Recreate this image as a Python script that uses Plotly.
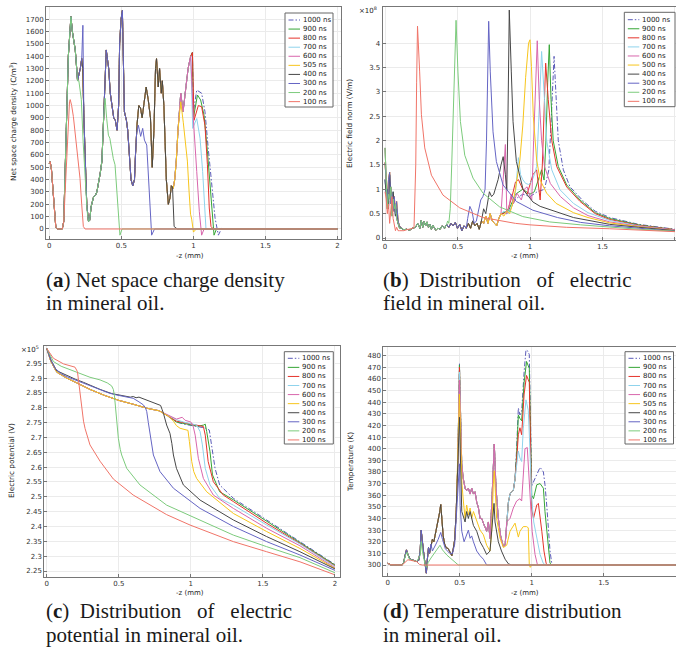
import plotly.graph_objects as go

# ---------------- series names / styles ----------------
NAMES_AD = ["1000 ns", "900 ns", "800 ns", "700 ns", "600 ns", "505 ns", "400 ns", "300 ns", "200 ns", "100 ns"]
NAMES_BC = ["1000 ns", "900 ns", "800 ns", "700 ns", "600 ns", "500 ns", "400 ns", "300 ns", "200 ns", "100 ns"]
COLORS = ["#5b5bb8", "#35a535", "#e5332b", "#8fd3ec", "#d866ac", "#f7c51c", "#474747", "#6565c4", "#7ccb7c", "#f07468"]
DASHES = ["5px,2px,1.5px,2px"] + ["solid"] * 9

# ---------------- (a) net space charge density, C/m^3 ----------------
RHO_COMMON = [(0.000, 530), (0.006, 545), (0.015, 480), (0.025, 300), (0.035, 110), (0.045, 15), (0.055, 0),
              (0.090, 0), (0.100, 60), (0.110, 400), (0.120, 900), (0.132, 1400), (0.144, 1680), (0.150, 1720),
              (0.160, 1600), (0.170, 1520), (0.180, 1450), (0.190, 1300), (0.196, 1200), (0.205, 1250),
              (0.215, 1300), (0.225, 1380), (0.232, 1300), (0.240, 900), (0.250, 500), (0.260, 200),
              (0.272, 60), (0.280, 70), (0.290, 180), (0.307, 260), (0.319, 270), (0.330, 300), (0.353, 450),
              (0.365, 550), (0.377, 900), (0.388, 1200), (0.395, 1450), (0.412, 1300), (0.423, 1100),
              (0.435, 1000), (0.447, 900), (0.458, 880), (0.470, 800), (0.481, 1000), (0.488, 1500),
              (0.498, 1700), (0.507, 1770), (0.521, 950), (0.535, 880), (0.544, 800), (0.558, 600),
              (0.567, 400), (0.579, 350), (0.591, 400), (0.598, 600), (0.609, 850), (0.621, 1000),
              (0.633, 980), (0.644, 900), (0.656, 1000), (0.672, 1150), (0.686, 1050), (0.702, 900),
              (0.714, 500), (0.726, 800), (0.737, 1300), (0.744, 1380), (0.756, 1150), (0.765, 1300),
              (0.777, 1100), (0.784, 1200), (0.795, 1000), (0.802, 700), (0.812, 400), (0.826, 200),
              (0.837, 250), (0.847, 350), (0.860, 330), (0.870, 400), (0.881, 550), (0.893, 800),
              (0.912, 1100), (0.928, 950), (0.947, 1150), (0.963, 1300), (0.981, 1400), (0.993, 1430)]
RHO_TAIL_1000 = [(1.0, 950), (1.023, 1125), (1.057, 1100), (1.08, 950), (1.103, 650), (1.127, 360), (1.15, 90),
                 (1.173, -50), (1.196, 5), (1.21, 0), (2.0, 0)]
RHO_TAIL_900 = [(1.0, 900), (1.028, 1085), (1.05, 1045), (1.074, 920), (1.097, 630), (1.12, 300), (1.134, 55),
                (1.143, -50), (1.16, 0), (2.0, 0)]
RHO_TAIL_800 = [(1.004, 880), (1.034, 1000), (1.057, 990), (1.08, 840), (1.097, 520), (1.11, 170), (1.122, 20),
                (1.138, 0), (2.0, 0)]
RHO_TAIL_700 = [(0.995, 815), (1.023, 895), (1.046, 735), (1.064, 465), (1.076, 195), (1.087, 0), (2.0, 0)]
RHO_TAIL_600 = [(0.988, 1140), (1.0, 880), (1.023, 465), (1.041, 140), (1.057, -50), (1.074, 0), (2.0, 0)]
RHO_TAIL_505 = [(0.912, 1030), (0.93, 860), (0.945, 700), (0.958, 550), (0.97, 300), (0.98, 120), (0.988, 80),
                (1.0, -25), (1.02, 0), (2.0, 0)]
RHO_TAIL_400 = [(0.855, 340), (0.866, 20), (0.875, 10), (0.888, 0), (2.0, 0)]
RHO_SPIKE_300 = [(0.233, 1650)]
RHO_TAIL_300 = [(0.606, 775), (0.618, 840), (0.634, 750), (0.648, 815), (0.66, 720), (0.676, 680), (0.687, 410),
                (0.699, 195), (0.71, -50), (0.73, 0), (2.0, 0)]
RHO_DIP_200 = [(0.205, 1200), (0.215, 1120), (0.222, 1050), (0.235, 700), (0.25, 400), (0.262, 150)]
RHO_TAIL_200 = [(0.387, 1058), (0.398, 896), (0.41, 760), (0.42, 735), (0.433, 625), (0.444, 570), (0.456, 520),
                (0.468, 300), (0.479, 113), (0.49, -50), (0.505, 0), (2.0, 0)]
RHO_TAIL_100 = [(0.11, 300), (0.12, 650), (0.13, 900), (0.14, 1030), (0.145, 1048), (0.155, 1000), (0.167, 910),
                (0.178, 790), (0.195, 630), (0.202, 560), (0.213, 410), (0.225, 195), (0.236, 20), (0.248, 0),
                (2.0, 0)]

# ---------------- (b) electric field norm, 1e8 V/m ----------------
E_START_1 = [(0, 1.55), (0.008, 1.1), (0.016, 0.75), (0.024, 1.2), (0.032, 1.35), (0.04, 0.7), (0.048, 0.9),
             (0.056, 0.55), (0.064, 0.85), (0.072, 0.5), (0.08, 0.75), (0.09, 0.35), (0.1, 0.25)]
E_START_2 = [(0, 1.85), (0.008, 1.2), (0.016, 0.6), (0.024, 0.9), (0.032, 0.8), (0.04, 1.05), (0.048, 0.45),
             (0.056, 0.8), (0.064, 0.6), (0.072, 0.7), (0.08, 0.4), (0.09, 0.3), (0.1, 0.2)]
E_START_3 = [(0, 1.2), (0.008, 0.9), (0.016, 1.0), (0.024, 0.6), (0.032, 1.3), (0.04, 0.9), (0.048, 0.6),
             (0.056, 0.95), (0.064, 0.7), (0.072, 0.45), (0.08, 0.6), (0.09, 0.3), (0.1, 0.22)]
E_LOW = [(0.115, 0.2), (0.13, 0.17), (0.15, 0.18), (0.17, 0.16), (0.19, 0.2), (0.21, 0.22), (0.225, 0.3),
         (0.24, 0.2), (0.25, 0.36), (0.26, 0.22), (0.27, 0.34), (0.28, 0.25), (0.29, 0.33), (0.3, 0.22),
         (0.31, 0.28), (0.32, 0.18), (0.33, 0.26), (0.34, 0.2), (0.35, 0.16), (0.365, 0.2), (0.38, 0.18),
         (0.395, 0.25), (0.41, 0.2), (0.425, 0.28)]
E_MID1 = [(0.44, 0.22), (0.455, 0.3), (0.47, 0.25), (0.485, 0.32), (0.5, 0.2), (0.515, 0.28), (0.53, 0.15),
          (0.545, 0.25), (0.56, 0.2)]
E_MID2 = [(0.575, 0.3), (0.59, 0.2), (0.605, 0.35), (0.62, 0.25), (0.635, 0.3), (0.65, 0.18), (0.665, 0.35)]
E_MID3 = [(0.68, 0.3), (0.695, 0.45), (0.71, 0.3), (0.725, 0.5), (0.74, 0.35), (0.755, 0.3), (0.77, 0.25),
          (0.785, 0.4), (0.8, 0.5)]
E_100 = [(0, 0.95), (0.008, 0.8), (0.016, 0.5), (0.024, 0.7), (0.032, 0.3), (0.04, 0.6), (0.048, 0.85),
         (0.056, 0.4), (0.064, 0.25), (0.072, 0.15), (0.08, 0.22), (0.09, 0.15), (0.1, 0.15), (0.13, 0.15),
         (0.15, 0.17), (0.17, 0.18), (0.19, 0.2), (0.2, 0.22), (0.212, 1.5), (0.218, 3.2), (0.224, 4.35),
         (0.239, 3.41), (0.251, 2.53), (0.274, 1.85), (0.32, 1.29), (0.4, 0.88), (0.515, 0.62), (0.676, 0.42),
         (0.9, 0.3), (1.0, 0.27), (1.25, 0.22), (1.55, 0.19), (1.75, 0.16), (2.0, 0.13)]
E_TAIL_200 = [(0.432, 0.35), (0.44, 0.3), (0.45, 0.6), (0.46, 1.5), (0.47, 2.6), (0.48, 3.6), (0.49, 4.47),
              (0.503, 3.41), (0.52, 2.39), (0.55, 1.7), (0.607, 1.23), (0.676, 0.92), (0.79, 0.64), (0.95, 0.44),
              (1.136, 0.33), (1.35, 0.27), (1.55, 0.22), (1.75, 0.18), (2.0, 0.14)]
E_TAIL_300 = [(0.57, 0.4), (0.585, 0.65), (0.6, 0.55), (0.615, 0.3), (0.63, 0.35), (0.645, 0.6), (0.66, 0.78),
              (0.675, 0.85), (0.69, 1.0), (0.7, 2.0), (0.708, 3.5), (0.715, 4.45), (0.726, 3.41), (0.745, 2.18),
              (0.768, 1.57), (0.814, 1.09), (0.906, 0.75), (1.02, 0.57), (1.19, 0.42), (1.35, 0.32), (1.55, 0.25),
              (1.75, 0.2), (2.0, 0.14)]
E_TAIL_400 = [(0.68, 0.6), (0.695, 0.5), (0.71, 0.75), (0.72, 0.95), (0.735, 0.85), (0.75, 0.9), (0.765, 1.05),
              (0.78, 1.2), (0.8, 1.5), (0.815, 1.67), (0.83, 1.3), (0.84, 0.99), (0.848, 2.5), (0.857, 4.68),
              (0.871, 3.41), (0.883, 2.39), (0.906, 1.57), (0.952, 1.0), (1.02, 0.74), (1.07, 0.65), (1.3, 0.42),
              (1.55, 0.28), (1.75, 0.22), (2.0, 0.15)]
E_TAIL_500 = [(0.82, 0.45), (0.84, 0.55), (0.86, 0.5), (0.88, 0.7), (0.9, 1.0), (0.915, 1.3), (0.93, 1.6),
              (0.95, 2.3), (0.97, 3.3), (0.99, 4.0), (1.0, 4.07), (1.01, 3.52), (1.023, 2.49), (1.046, 1.6),
              (1.07, 1.19), (1.115, 0.92), (1.18, 0.71), (1.3, 0.52), (1.4, 0.42), (1.55, 0.31), (1.75, 0.23),
              (2.0, 0.15)]
E_TAIL_600 = [(0.815, 1.2), (0.83, 1.92), (0.84, 0.5), (0.855, 0.64), (0.87, 0.9), (0.885, 0.7), (0.91, 0.92),
              (0.94, 0.78), (0.96, 1.0), (0.98, 1.05), (1.0, 0.85), (1.012, 0.78), (1.025, 2.0), (1.04, 3.4),
              (1.05, 4.05), (1.064, 2.84), (1.08, 2.0), (1.1, 1.47), (1.14, 1.12), (1.21, 0.85), (1.3, 0.62),
              (1.4, 0.46), (1.55, 0.33), (1.75, 0.24), (2.0, 0.16)]
E_TAIL_700 = [(0.82, 0.55), (0.85, 0.5), (0.88, 0.7), (0.9, 0.95), (0.92, 1.65), (0.935, 1.3), (0.95, 1.2),
              (0.97, 1.12), (0.99, 1.1), (1.01, 1.15), (1.03, 1.3), (1.046, 1.47), (1.06, 2.4), (1.07, 3.2),
              (1.08, 3.83), (1.1, 2.84), (1.115, 2.0), (1.15, 1.4), (1.207, 0.99), (1.3, 0.71), (1.4, 0.52),
              (1.55, 0.36), (1.75, 0.25), (2.0, 0.16)]
E_TAIL_800 = [(0.82, 0.5), (0.85, 0.6), (0.88, 0.9), (0.9, 1.15), (0.92, 1.2), (0.95, 1.0), (0.98, 0.9),
              (1.0, 1.1), (1.02, 1.3), (1.046, 1.4), (1.06, 1.0), (1.07, 0.78), (1.085, 1.5), (1.097, 2.8),
              (1.108, 3.59), (1.126, 2.84), (1.15, 2.0), (1.184, 1.47), (1.253, 1.05), (1.345, 0.75), (1.45, 0.5),
              (1.55, 0.38), (1.75, 0.26), (2.0, 0.17)]
E_TAIL_900 = [(0.85, 0.55), (0.9, 0.9), (0.95, 1.0), (1.0, 0.9), (1.03, 0.95), (1.06, 1.2), (1.08, 1.4),
              (1.097, 1.19), (1.11, 2.0), (1.122, 3.2), (1.133, 3.97), (1.145, 2.84), (1.16, 2.0), (1.195, 1.47),
              (1.253, 1.09), (1.345, 0.78), (1.45, 0.52), (1.55, 0.4), (1.75, 0.27), (2.0, 0.17)]
E_TAIL_1000 = [(0.85, 0.5), (0.9, 0.8), (0.95, 0.9), (1.0, 0.85), (1.05, 0.95), (1.1, 1.0), (1.13, 1.4),
               (1.145, 2.2), (1.155, 3.0), (1.166, 3.73), (1.18, 2.84), (1.195, 2.0), (1.23, 1.4), (1.276, 1.05),
               (1.37, 0.75), (1.45, 0.55), (1.55, 0.42), (1.75, 0.28), (2.0, 0.18)]

# ---------------- (c) electric potential, 1e5 V ----------------
V_100 = [(0, 3.0), (0.046, 2.967), (0.116, 2.948), (0.162, 2.942), (0.196, 2.937), (0.213, 2.922), (0.22, 2.895),
         (0.227, 2.866), (0.235, 2.82), (0.243, 2.787), (0.255, 2.755), (0.266, 2.73), (0.3, 2.675), (0.37, 2.62),
         (0.462, 2.56), (0.6, 2.506), (0.832, 2.44), (0.994, 2.405), (1.295, 2.349), (1.526, 2.315),
         (1.757, 2.281), (2.0, 2.237)]
V_200 = [(0, 3.0), (0.046, 2.956), (0.1, 2.94), (0.139, 2.933), (0.2, 2.92), (0.254, 2.911), (0.3, 2.903),
         (0.37, 2.894), (0.42, 2.884), (0.45, 2.874), (0.462, 2.862), (0.47, 2.84), (0.478, 2.8), (0.486, 2.765),
         (0.497, 2.697), (0.51, 2.66), (0.52, 2.641), (0.555, 2.596), (0.647, 2.54), (0.832, 2.472),
         (1.064, 2.422), (1.295, 2.371), (1.526, 2.332), (1.757, 2.295), (2.0, 2.244)]
V_300 = [(0, 3.0), (0.03, 2.96), (0.058, 2.933), (0.1, 2.915), (0.139, 2.905), (0.2, 2.893), (0.254, 2.883),
         (0.3, 2.874), (0.37, 2.86), (0.43, 2.85), (0.486, 2.843), (0.55, 2.837), (0.6, 2.832), (0.64, 2.82),
         (0.67, 2.81), (0.685, 2.8), (0.694, 2.787), (0.705, 2.75), (0.717, 2.708), (0.74, 2.641), (0.786, 2.585),
         (0.879, 2.529), (1.064, 2.461), (1.295, 2.4), (1.526, 2.349), (1.757, 2.304), (2.0, 2.252)]
V_400 = [(0, 3.0), (0.03, 2.96), (0.069, 2.925), (0.139, 2.908), (0.2, 2.896), (0.254, 2.886), (0.3, 2.876),
         (0.37, 2.862), (0.45, 2.848), (0.5, 2.843), (0.55, 2.84), (0.58, 2.836), (0.6, 2.838), (0.62, 2.834),
         (0.64, 2.836), (0.68, 2.828), (0.72, 2.82), (0.763, 2.812), (0.79, 2.808), (0.8, 2.795), (0.81, 2.781),
         (0.832, 2.742), (0.855, 2.714), (0.868, 2.68), (0.879, 2.641), (0.9, 2.596), (0.948, 2.54),
         (1.064, 2.489), (1.295, 2.422), (1.526, 2.366), (1.757, 2.315), (2.0, 2.257)]
V_LOW_COMMON = [(0, 3.0), (0.03, 2.955), (0.07, 2.92), (0.139, 2.9), (0.2, 2.886), (0.3, 2.862), (0.4, 2.842),
                (0.5, 2.825), (0.6, 2.812), (0.7, 2.798), (0.78, 2.79), (0.8, 2.785)]
V_TAIL_500 = [(0.85, 2.77), (0.879, 2.755), (0.9, 2.74), (0.925, 2.731), (0.96, 2.725), (0.98, 2.724),
              (0.99, 2.686), (1.006, 2.619), (1.02, 2.585), (1.04, 2.562), (1.11, 2.517), (1.295, 2.444),
              (1.526, 2.383), (1.757, 2.326), (2.0, 2.259)]
V_TAIL_600 = [(0.85, 2.775), (0.9, 2.762), (0.94, 2.768), (0.96, 2.758), (0.98, 2.755), (1.0, 2.752),
              (1.015, 2.74), (1.03, 2.708), (1.052, 2.63), (1.087, 2.562), (1.156, 2.506), (1.295, 2.461),
              (1.526, 2.394), (1.757, 2.335), (2.0, 2.261)]
V_TAIL_700 = [(0.85, 2.772), (0.9, 2.76), (0.95, 2.752), (1.0, 2.746), (1.04, 2.742), (1.064, 2.72),
              (1.08, 2.675), (1.1, 2.596), (1.133, 2.54), (1.2, 2.495), (1.295, 2.472), (1.526, 2.405),
              (1.757, 2.341), (2.0, 2.265)]
V_TAIL_800 = [(0.85, 2.77), (0.9, 2.755), (0.95, 2.75), (1.0, 2.745), (1.05, 2.74), (1.087, 2.737), (1.1, 2.708),
              (1.12, 2.619), (1.156, 2.551), (1.225, 2.506), (1.295, 2.484), (1.526, 2.411), (1.757, 2.343),
              (2.0, 2.267)]
V_TAIL_900 = [(0.85, 2.77), (0.9, 2.752), (0.95, 2.748), (1.0, 2.742), (1.05, 2.738), (1.09, 2.742), (1.1, 2.745),
              (1.11, 2.72), (1.133, 2.652), (1.15, 2.574), (1.2, 2.517), (1.295, 2.49), (1.526, 2.417),
              (1.757, 2.347), (2.0, 2.27)]
V_TAIL_1000 = [(0.85, 2.768), (0.9, 2.752), (0.95, 2.745), (1.0, 2.74), (1.05, 2.735), (1.1, 2.732),
               (1.128, 2.725), (1.14, 2.686), (1.168, 2.596), (1.2, 2.54), (1.295, 2.495), (1.526, 2.422),
               (1.757, 2.349), (2.0, 2.272)]

# ---------------- (d) temperature, K ----------------
T_BASE = [(0, 301.5), (0.02, 300.2), (0.1, 300), (0.11, 302), (0.12, 308), (0.13, 313), (0.14, 309), (0.155, 305),
          (0.18, 304), (0.2, 303), (0.215, 304), (0.225, 312), (0.232, 330), (0.24, 318), (0.248, 312),
          (0.255, 305), (0.262, 298), (0.268, 293), (0.275, 305), (0.283, 315), (0.29, 310), (0.3, 318),
          (0.31, 322), (0.32, 320), (0.33, 326), (0.34, 330), (0.35, 338), (0.36, 345), (0.368, 352),
          (0.376, 340), (0.385, 325), (0.395, 318), (0.405, 315), (0.42, 314), (0.435, 310), (0.445, 308),
          (0.455, 314), (0.465, 322), (0.475, 345), (0.486, 385)]
T_PEAK = {"1000": 473, "900": 472, "800": 470, "700": 466, "600": 459, "505": 447, "400": 427}
T_TOP_MID = [(0.514, 386), (0.525, 374), (0.537, 366), (0.548, 364), (0.56, 366), (0.572, 361), (0.583, 366),
             (0.595, 361), (0.606, 363), (0.618, 354), (0.63, 349), (0.641, 340), (0.653, 340), (0.664, 336),
             (0.676, 333), (0.687, 329), (0.699, 337), (0.71, 323), (0.722, 352), (0.733, 395), (0.74, 404),
             (0.752, 366), (0.768, 340), (0.784, 325), (0.803, 316), (0.815, 317), (0.826, 337), (0.838, 354),
             (0.849, 361), (0.86, 363), (0.872, 364), (0.884, 374)]
T_TAIL_1000 = [(0.895, 400), (0.907, 435), (0.918, 429), (0.93, 432), (0.947, 466), (0.96, 485), (0.972, 484),
               (0.983, 481), (0.992, 420), (1.0, 368), (1.023, 374.5), (1.046, 381.7), (1.058, 384), (1.081, 380),
               (1.092, 369), (1.104, 351.6), (1.116, 329), (1.127, 312), (1.139, 301.5), (1.15, 300), (2.0, 300)]
T_TAIL_900 = [(0.895, 395), (0.907, 429), (0.918, 426), (0.93, 424), (0.947, 457), (0.964, 475), (0.983, 469),
              (0.992, 410), (1.0, 360), (1.012, 357), (1.035, 369), (1.058, 370), (1.081, 366), (1.092, 346),
              (1.104, 330), (1.116, 316), (1.127, 301.5), (1.14, 300), (2.0, 300)]
T_TAIL_800 = [(0.895, 390), (0.907, 412), (0.918, 418), (0.93, 412), (0.947, 447), (0.964, 463), (0.983, 457),
              (0.992, 400), (1.0, 348), (1.012, 340), (1.035, 351.6), (1.046, 353), (1.058, 343), (1.07, 329),
              (1.085, 312), (1.1, 301.5), (1.11, 300), (2.0, 300)]
T_TAIL_700 = [(0.907, 398), (0.918, 392), (0.93, 389), (0.941, 417), (0.96, 442), (0.976, 433), (0.984, 410),
              (1.0, 357), (1.014, 337), (1.035, 323), (1.058, 309), (1.08, 301.5), (1.095, 300), (2.0, 300)]
T_TAIL_600 = [(0.849, 340), (0.872, 349), (0.895, 355), (0.918, 357), (0.93, 355), (0.953, 400), (0.969, 401),
              (0.984, 369), (1.003, 329), (1.023, 309), (1.04, 300), (2.0, 300)]
T_AFTER_505 = [(0.506, 413), (0.515, 370), (0.525, 355), (0.537, 340), (0.548, 351.6), (0.56, 343), (0.572, 349),
               (0.583, 340), (0.595, 346), (0.618, 337), (0.641, 330), (0.664, 326), (0.687, 317), (0.71, 312),
               (0.722, 329), (0.733, 369), (0.74, 381), (0.756, 340), (0.78, 323), (0.803, 315), (0.826, 317),
               (0.849, 329), (0.872, 333), (0.884, 336), (0.907, 324), (0.918, 329), (0.941, 333), (0.964, 333),
               (0.976, 332), (0.983, 300), (0.99, 298), (1.0, 300), (2.0, 300)]
T_AFTER_400 = [(0.514, 346), (0.525, 342), (0.537, 337), (0.548, 346), (0.56, 340), (0.572, 346), (0.583, 339),
               (0.595, 334), (0.618, 329), (0.641, 320), (0.664, 315), (0.687, 309), (0.71, 312), (0.722, 329),
               (0.733, 346), (0.738, 353), (0.745, 337), (0.768, 320), (0.79, 312), (0.815, 305), (0.838, 301),
               (0.86, 300), (2.0, 300)]
T_AFTER_300 = [(0.31, 312), (0.32, 314), (0.335, 318), (0.35, 322), (0.368, 328), (0.38, 322), (0.4, 314),
               (0.43, 310), (0.45, 310), (0.465, 318), (0.475, 338), (0.486, 362), (0.498, 387), (0.503, 351),
               (0.514, 329), (0.53, 320), (0.548, 326), (0.56, 330), (0.572, 323), (0.583, 325), (0.595, 320),
               (0.618, 312), (0.641, 308), (0.664, 305), (0.687, 300), (2.0, 300)]
T_200 = [(0, 301.5), (0.02, 300.2), (0.1, 300), (0.11, 302), (0.125, 309), (0.135, 311), (0.15, 305), (0.2, 303),
         (0.225, 308), (0.232, 320), (0.24, 312), (0.25, 305), (0.26, 300), (0.27, 298), (0.28, 302), (0.3, 306),
         (0.32, 310), (0.34, 313), (0.363, 317), (0.38, 313), (0.41, 308.6), (0.456, 304), (0.48, 301.4),
         (0.49, 300), (2.0, 300)]
T_100 = [(0, 301.5), (0.02, 300.2), (0.1, 300), (0.12, 302), (0.14, 304.5), (0.16, 304), (0.2, 303),
         (0.22, 300.5), (0.24, 300), (2.0, 300)]


def seg(pts, lo, hi):
    return [p for p in pts if lo <= p[0] < hi]


def build(*parts):
    pts = [p for part in parts for p in part]
    return [p[0] for p in pts], [p[1] for p in pts]


SERIES_A = [
    build(seg(RHO_COMMON, 0, 1), RHO_TAIL_1000),
    build(seg(RHO_COMMON, 0, 1), RHO_TAIL_900),
    build(seg(RHO_COMMON, 0, 1), RHO_TAIL_800),
    build(seg(RHO_COMMON, 0, 0.99), RHO_TAIL_700),
    build(seg(RHO_COMMON, 0, 0.985), RHO_TAIL_600),
    build(seg(RHO_COMMON, 0, 0.9), RHO_TAIL_505),
    build(seg(RHO_COMMON, 0, 0.85), RHO_TAIL_400),
    build(seg(RHO_COMMON, 0, 0.228), RHO_SPIKE_300, seg(RHO_COMMON, 0.238, 0.6), RHO_TAIL_300),
    build(seg(RHO_COMMON, 0, 0.2), RHO_DIP_200, seg(RHO_COMMON, 0.27, 0.38), RHO_TAIL_200),
    build(seg(RHO_COMMON, 0, 0.105), RHO_TAIL_100),
]
E_PRE = E_LOW + E_MID1
SERIES_B = [
    build(E_START_3, E_PRE, E_MID2, E_MID3, E_TAIL_1000),
    build(E_START_2, E_PRE, E_MID2, E_MID3, E_TAIL_900),
    build(E_START_1, E_PRE, E_MID2, E_MID3, E_TAIL_800),
    build(E_START_3, E_PRE, E_MID2, E_MID3, E_TAIL_700),
    build(E_START_2, E_PRE, E_MID2, E_MID3, E_TAIL_600),
    build(E_START_1, E_PRE, E_MID2, E_MID3, E_TAIL_500),
    build(E_START_3, E_PRE, E_MID2, E_TAIL_400),
    build(E_START_1, E_PRE, E_TAIL_300),
    build(E_START_2, E_LOW, E_TAIL_200),
    build(E_100),
]
SERIES_C = [
    build(V_LOW_COMMON, V_TAIL_1000),
    build(V_LOW_COMMON, V_TAIL_900),
    build(V_LOW_COMMON, V_TAIL_800),
    build(V_LOW_COMMON, V_TAIL_700),
    build(V_LOW_COMMON, V_TAIL_600),
    build(V_LOW_COMMON, V_TAIL_500),
    build(V_400), build(V_300), build(V_200), build(V_100),
]
SERIES_D = [
    build(T_BASE, [(0.498, T_PEAK["1000"])], T_TOP_MID, T_TAIL_1000),
    build(T_BASE, [(0.498, T_PEAK["900"])], T_TOP_MID, T_TAIL_900),
    build(T_BASE, [(0.498, T_PEAK["800"])], T_TOP_MID, T_TAIL_800),
    build(T_BASE, [(0.498, T_PEAK["700"])], T_TOP_MID, T_TAIL_700),
    build(T_BASE, [(0.498, T_PEAK["600"])], seg(T_TOP_MID, 0, 0.83), T_TAIL_600),
    build(T_BASE, [(0.498, T_PEAK["505"])], T_AFTER_505),
    build(T_BASE, [(0.498, T_PEAK["400"])], T_AFTER_400),
    build(seg(T_BASE, 0, 0.305), T_AFTER_300),
    build(T_200), build(T_100),
]

# ---------------- layout geometry (pixels) ----------------
W, H = 676, 656
X_TICKS = [0, 0.5, 1, 1.5, 2]
Y_TICKS_A = list(range(0, 1701, 100))
Y_TICKS_B = [0, 0.5, 1, 1.5, 2, 2.5, 3, 3.5, 4]
Y_TICKS_C = [2.25, 2.3, 2.35, 2.4, 2.45, 2.5, 2.55, 2.6, 2.65, 2.7, 2.75, 2.8, 2.85, 2.9, 2.95]
Y_TICKS_D = list(range(300, 481, 10))

PANELS = [
    dict(series=SERIES_A, names=NAMES_AD, fx=(46, 341), fy=(7, 238.5), xr=(-0.023, 2.024), yr=(-77, 1798),
         yt=Y_TICKS_A, ytitle="Net space charge density (C/m<sup>3</sup>)", tpos=(13, 122), xtpos=(190, 256),
         leg=(285, 13, 333, 107, 20.0)),
    dict(series=SERIES_B, names=NAMES_BC, fx=(382.7, 676), fy=(7, 240), xr=(-0.016, 2.007), yr=(-0.041, 4.743),
         yt=Y_TICKS_B, ytitle="Electric field norm (V/m)", tpos=(350, 124), xtpos=(525, 256),
         leg=(624.3, 12.3, 675, 106.7, 19.7)),
    dict(series=SERIES_C, names=NAMES_BC, fx=(44.3, 340), fy=(346, 577), xr=(-0.017, 2.035), yr=(2.2298, 3.0083),
         yt=Y_TICKS_C, ytitle="Electric potential (V)", tpos=(11, 461), xtpos=(190, 593),
         leg=(284.3, 351.7, 333.3, 444, 358.3)),
    dict(series=SERIES_D, names=NAMES_AD, fx=(383.3, 676), fy=(346.7, 575.7), xr=(-0.031, 2.002), yr=(290.8, 487.7),
         yt=Y_TICKS_D, ytitle="Temperature (K)", tpos=(350, 462), xtpos=(525, 593),
         leg=(625, 351.7, 673.5, 444, 358.3)),
]


def PX(px):
    return px / W


def PY(py):
    return 1 - py / H


fig = go.Figure()
annotations = []
shapes = []
TICKFONT = dict(family="DejaVu Sans", size=7, color="#333333")

for k, p in enumerate(PANELS, start=1):
    sfx = "" if k == 1 else str(k)
    for (xs, ys), name, col, dash in zip(p["series"], p["names"], COLORS, DASHES):
        fig.add_trace(go.Scatter(x=xs, y=ys, mode="lines", name=name, showlegend=False, hoverinfo="skip",
                                 line=dict(color=col, width=1, dash=dash),
                                 xaxis="x" + sfx, yaxis="y" + sfx))
    axis_common = dict(showline=True, mirror=True, linecolor="#777777", linewidth=1, showgrid=True,
                       gridcolor="#ebebeb", gridwidth=1, zeroline=False, ticks="inside", ticklen=3,
                       tickcolor="#777777", tickfont=TICKFONT, fixedrange=True, automargin=False)
    fig.layout["xaxis" + sfx] = dict(axis_common, domain=[PX(p["fx"][0]), PX(p["fx"][1])], range=list(p["xr"]),
                                     anchor="y" + sfx, tickmode="array", tickvals=X_TICKS,
                                     ticktext=[f"{v:g}" for v in X_TICKS])
    fig.layout["yaxis" + sfx] = dict(axis_common, domain=[PY(p["fy"][1]), PY(p["fy"][0])], range=list(p["yr"]),
                                     anchor="x" + sfx, tickmode="array", tickvals=p["yt"],
                                     ticktext=[f"{v:g}" for v in p["yt"]])
    # axis titles
    annotations.append(dict(text=p["ytitle"], x=PX(p["tpos"][0]), y=PY(p["tpos"][1]), xref="paper", yref="paper",
                            textangle=-90, showarrow=False, xanchor="center", yanchor="middle",
                            font=dict(family="DejaVu Sans", size=7.3, color="#222222")))
    annotations.append(dict(text="-z (mm)", x=PX(p["xtpos"][0]), y=PY(p["xtpos"][1]), xref="paper", yref="paper",
                            showarrow=False, xanchor="center", yanchor="middle",
                            font=dict(family="DejaVu Sans", size=7, color="#222222")))
    # legend box
    x0, y0, x1, y1, r0 = p["leg"]
    shapes.append(dict(type="rect", xref="paper", yref="paper", x0=PX(x0), x1=PX(x1), y0=PY(y1), y1=PY(y0),
                       fillcolor="white", line=dict(color="#666666", width=1), layer="above"))
    for i, (name, col, dash) in enumerate(zip(p["names"], COLORS, DASHES)):
        ry = r0 + i * 9.07
        shapes.append(dict(type="line", xref="paper", yref="paper", x0=PX(x0 + 3.5), x1=PX(x0 + 15),
                           y0=PY(ry), y1=PY(ry), line=dict(color=col, width=1, dash=dash), layer="above"))
        annotations.append(dict(text=name, x=PX(x0 + 16), y=PY(ry), xref="paper", yref="paper", showarrow=False,
                                xanchor="left", yanchor="middle",
                                font=dict(family="DejaVu Sans", size=7, color="#222222")))

# multipliers
annotations.append(dict(text="\u00d710<sup>8</sup>", x=PX(357), y=PY(10), xref="paper", yref="paper",
                        showarrow=False, xanchor="left", yanchor="middle",
                        font=dict(family="DejaVu Sans", size=7, color="#222222")))
annotations.append(dict(text="\u00d710<sup>5</sup>", x=PX(19), y=PY(349), xref="paper", yref="paper",
                        showarrow=False, xanchor="left", yanchor="middle",
                        font=dict(family="DejaVu Sans", size=7, color="#222222")))

# captions
SP = "\u00a0"
CAPTIONS = [
    (44, 280, "(<b>a</b>) Net space charge density"),
    (44, 303, "in mineral oil."),
    (381, 280, f"(<b>b</b>){SP*2}Distribution{SP*3}of{SP*3}electric"),
    (381, 303, "field in mineral oil."),
    (44, 611, f"(<b>c</b>){SP*2}Distribution{SP*3}of{SP*3}electric"),
    (44, 635, "potential in mineral oil."),
    (381, 611, "(<b>d</b>) Temperature distribution"),
    (381, 635, "in mineral oil."),
]
for cx, cy, txt in CAPTIONS:
    annotations.append(dict(text=txt, x=PX(cx), y=PY(cy), xref="paper", yref="paper", showarrow=False,
                            xanchor="left", yanchor="middle",
                            font=dict(family="Liberation Serif", size=21, color="#1a1a1a")))

fig.update_layout(width=W, height=H, margin=dict(l=0, r=0, t=0, b=0, autoexpand=False), paper_bgcolor="white",
                  plot_bgcolor="white", showlegend=False, annotations=annotations, shapes=shapes)

fig.write_html("out.html", config={"displayModeBar": False, "staticPlot": True},
               post_script="document.body.style.margin='0';document.body.style.padding='0';"
                           "document.documentElement.style.overflow='hidden';")
